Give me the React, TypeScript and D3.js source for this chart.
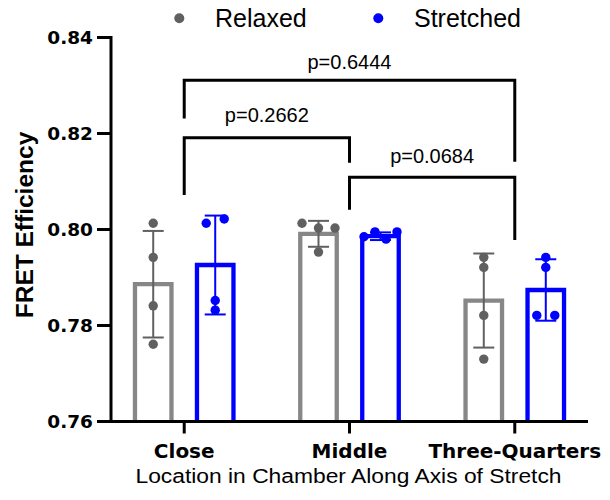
import React from "react";
import * as d3 from "d3";

const categories = ["Close", "Middle", "Three-Quarters"];
const seriesNames = ["Relaxed", "Stretched"];
const relaxedMean = [0.7886, 0.7991, 0.7852];
const relaxedSD = [0.0111, 0.0027, 0.0098];
const stretchedMean = [0.7926, 0.7986, 0.7874];
const stretchedSD = [0.0103, 0.0008, 0.0064];
const relaxedPoints = [
  [0.8013, 0.7942, 0.7841, 0.7761],
  [0.8013, 0.8003, 0.8003, 0.7953],
  [0.7942, 0.7921, 0.7821, 0.773],
];
const stretchedPoints = [
  [0.8013, 0.8022, 0.7852, 0.7832],
  [0.7985, 0.7995, 0.798, 0.7995],
  [0.7942, 0.7921, 0.7821, 0.7821],
];
const yTicks = [0.76, 0.78, 0.8, 0.82, 0.84];
const yTickLabels = ["0.76", "0.78", "0.80", "0.82", "0.84"];
const comparisonFrom = [0, 0, 1];
const comparisonTo = [2, 1, 2];
const comparisonLabels = ["p=0.6444", "p=0.2662", "p=0.0684"];
const comparisonTop = [0.8311, 0.8191, 0.8109];
const comparisonLeftEnd = [0.8231, 0.8072, 0.8041];
const comparisonRightEnd = [0.8141, 0.8139, 0.7978];
const comparisonLabelLevel = [0.8334, 0.8225, 0.8139];
const yTitle = "FRET Efficiency";
const xTitle = "Location in Chamber Along Axis of Stretch";

const W = 610;
const H = 500;
const plotLeft = 111;
const plotRight = 588;
const plotTop = 37.5;
const plotBottom = 421.5;
const GRAY_BAR = "#878787";
const GRAY_DOT = "#606060";
const BLUE = "#0000ff";
const SANS = "'Liberation Sans', Arial, sans-serif";
const DEJAVU = "'DejaVu Sans', sans-serif";

const seriesColor = [GRAY_BAR, BLUE];
const seriesDot = [GRAY_DOT, BLUE];
const seriesErr = [GRAY_DOT, BLUE];

function layoutDots(values: number[], y: (v: number) => number) {
  const ys = values.map(y);
  const idx = values.map((_, i) => i).sort((a, b) => ys[a] - ys[b]);
  const clusters: number[][] = [];
  idx.forEach((i) => {
    const last = clusters[clusters.length - 1];
    if (last && Math.abs(ys[i] - ys[last[last.length - 1]]) < 8) last.push(i);
    else clusters.push([i]);
  });
  const offsets = new Array(values.length).fill(0);
  clusters.forEach((c) => {
    const members = [...c].sort((a, b) => a - b);
    const n = members.length;
    if (n < 2) return;
    const s = Math.min(18, 33 / (n - 1));
    members.forEach((m, k) => {
      offsets[m] = (k - (n - 1) / 2) * s;
    });
  });
  return offsets;
}

export default function App() {
  const y = d3.scaleLinear().domain([0.76, 0.84]).range([plotBottom, plotTop]);
  const x = d3
    .scalePoint<string>()
    .domain(categories)
    .range([plotLeft, plotRight])
    .padding(0.443);
  const xs = d3.scaleBand<string>().domain(seriesNames).range([-62, 62]);
  const barW = 36.5;

  const means = [relaxedMean, stretchedMean];
  const sds = [relaxedSD, stretchedSD];
  const pts = [relaxedPoints, stretchedPoints];

  return (
    <svg width={W} height={H} style={{ position: "absolute", left: 0, top: 0, background: "#fff" }}>
      <rect x={0} y={0} width={W} height={H} fill="#fff" />
      {/* bars */}
      {seriesNames.map((s, si) =>
        categories.map((c, ci) => {
          const cx = (x(c) as number) + (xs(s) as number) + xs.bandwidth() / 2;
          const top = y(means[si][ci]);
          const x0 = cx - barW / 2;
          const x1 = cx + barW / 2;
          return (
            <path
              key={`bar-${s}-${c}`}
              d={`M${x0},${plotBottom} V${top} H${x1} V${plotBottom}`}
              fill="#fff"
              stroke={seriesColor[si]}
              strokeWidth={4.3}
            />
          );
        })
      )}
      {/* error bars */}
      {seriesNames.map((s, si) =>
        categories.map((c, ci) => {
          const cx = (x(c) as number) + (xs(s) as number) + xs.bandwidth() / 2;
          const hi = y(means[si][ci] + sds[si][ci]);
          const lo = y(means[si][ci] - sds[si][ci]);
          return (
            <g key={`err-${s}-${c}`} stroke={seriesErr[si]} strokeWidth={2}>
              <line x1={cx} x2={cx} y1={hi} y2={lo} />
              <line x1={cx - 10.5} x2={cx + 10.5} y1={hi} y2={hi} />
              <line x1={cx - 10.5} x2={cx + 10.5} y1={lo} y2={lo} />
            </g>
          );
        })
      )}
      {/* dots */}
      {seriesNames.map((s, si) =>
        categories.map((c, ci) => {
          const cx = (x(c) as number) + (xs(s) as number) + xs.bandwidth() / 2;
          const vals = pts[si][ci];
          const offs = layoutDots(vals, (v) => y(v));
          return vals.map((v, k) => (
            <circle key={`pt-${s}-${c}-${k}`} cx={cx + offs[k]} cy={y(v)} r={4.7} fill={seriesDot[si]} />
          ));
        })
      )}
      {/* axes */}
      <g stroke="#000" strokeWidth={3} fill="none">
        <line x1={plotLeft} x2={plotLeft} y1={plotTop - 1.5} y2={plotBottom + 1.5} />
        <line x1={plotLeft - 1.5} x2={plotRight} y1={plotBottom} y2={plotBottom} />
        {yTicks.map((t) => (
          <line key={`yt-${t}`} x1={plotLeft - 14} x2={plotLeft} y1={y(t)} y2={y(t)} />
        ))}
        {categories.map((c) => (
          <line key={`xt-${c}`} x1={x(c) as number} x2={x(c) as number} y1={plotBottom} y2={plotBottom + 12} />
        ))}
      </g>
      {yTicks.map((t, i) => (
        <text
          key={`yl-${t}`}
          x={plotLeft - 18}
          y={y(t) + 6.8}
          textAnchor="end"
          fontFamily={DEJAVU}
          fontWeight="bold"
          fontSize={18.5}
        >
          {yTickLabels[i]}
        </text>
      ))}
      {categories.map((c) => (
        <text
          key={`xl-${c}`}
          x={x(c) as number}
          y={458}
          textAnchor="middle"
          fontFamily={DEJAVU}
          fontWeight="bold"
          fontSize={20}
        >
          {c}
        </text>
      ))}
      <text
        transform={`translate(${(plotLeft + plotRight) / 2 - 1},483) scale(1.17,1)`}
        textAnchor="middle"
        fontFamily={SANS}
        fontSize={19.5}
      >
        {xTitle}
      </text>
      <text
        transform={`translate(33,225) rotate(-90)`}
        textAnchor="middle"
        fontFamily={SANS}
        fontWeight="bold"
        fontSize={24.5}
      >
        {yTitle}
      </text>
      {/* comparisons */}
      {comparisonLabels.map((lab, i) => {
        const xa = x(categories[comparisonFrom[i]]) as number;
        const xb = x(categories[comparisonTo[i]]) as number;
        const yt = y(comparisonTop[i]);
        return (
          <g key={`cmp-${i}`}>
            <path
              d={`M${xa},${y(comparisonLeftEnd[i])} V${yt} H${xb} V${y(comparisonRightEnd[i])}`}
              fill="none"
              stroke="#000"
              strokeWidth={3}
            />
            <text
              x={(xa + xb) / 2}
              y={y(comparisonLabelLevel[i])}
              textAnchor="middle"
              fontFamily={SANS}
              fontSize={20}
            >
              {lab}
            </text>
          </g>
        );
      })}
      {/* legend */}
      <circle cx={179.3} cy={18.3} r={5} fill={GRAY_DOT} />
      <text x={215} y={27} fontFamily={SANS} fontSize={25}>
        {seriesNames[0]}
      </text>
      <circle cx={378.3} cy={18.3} r={5} fill={BLUE} />
      <text x={414} y={27} fontFamily={SANS} fontSize={25}>
        {seriesNames[1]}
      </text>
    </svg>
  );
}
